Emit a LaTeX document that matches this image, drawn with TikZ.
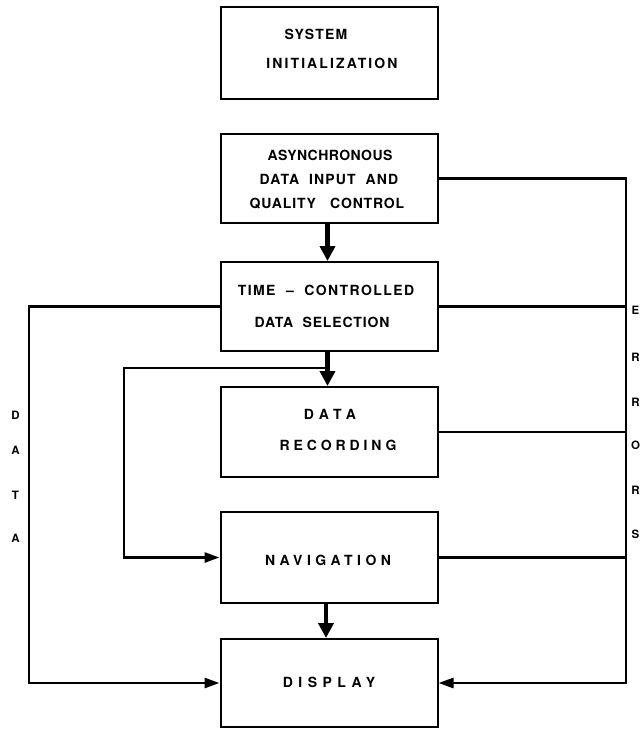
\documentclass[tikz,border=0pt]{standalone}
\usepackage{fontspec}
\setmainfont{TeX Gyre Heros}
\usetikzlibrary{arrows.meta}
\begin{document}
\begin{tikzpicture}[x=1pt,y=-1pt,
  box/.style={draw, line width=2pt, minimum width=217pt, minimum height=#1, inner sep=0pt},
  lt/.style={font={\fontsize{14}{16}\selectfont\bfseries\addfontfeature{LetterSpace=#1}}, inner sep=0pt, anchor=base},
  side/.style={font={\bfseries\fontsize{11.5}{13}\selectfont}, inner sep=0pt},
  conn/.style={line width=2.8pt},
  arr/.style={conn, -{Triangle[length=15pt,width=10pt]}},
  bigarr/.style={line width=4.8pt, -{Triangle[length=15pt,width=15pt]}}
]
\useasboundingbox (0,0) rectangle (641,729);

% boxes
\node[box=92pt] (init)  at (329,53)    {};
\node[box=89pt] (async) at (329,178.5) {};
\node[box=89pt] (time)  at (329,306.5) {};
\node[box=90pt] (rec)   at (329,432)   {};
\node[box=91pt] (nav)   at (329,557.5) {};
\node[box=88pt] (disp)  at (329,683)   {};

% texts
\node[lt=9]  (t1) at (316,39) {SYSTEM};
\node[lt=15] (t2) at (332,68) {INITIALIZATION};
\node[lt=3]  (t3) at (330,160) {ASYNCHRONOUS};
\node[lt=8]  (t4) at (329,184) {DATA\ \ INPUT\ \ AND};
\node[lt=6]  (t5) at (327,208) {QUALITY\ \ \ CONTROL};
\node[lt=10] (t6) at (326,295) {TIME\ \ –\ \ CONTROLLED};
\node[lt=6]  (t7) at (322,327) {DATA\ \ SELECTION};
\node[lt=38] (t8) at (330,419) {DATA};
\node[lt=28] (t9) at (338,450) {RECORDING};
\node[lt=32] (t10) at (328,565) {NAVIGATION};
\node[lt=39] (t11) at (329,687) {DISPLAY};

% side letters
\node[side] (d1) at (15.5,415) {D};
\node[side] (d2) at (15.5,450) {A};
\node[side] (d3) at (15.5,495) {T};
\node[side] (d4) at (15.5,538) {A};
\node[side] (e1) at (635.5,310) {E};
\node[side] (e2) at (635.5,357) {R};
\node[side] (e3) at (635.5,402) {R};
\node[side] (e4) at (635.5,445) {O};
\node[side] (e5) at (635.5,490) {R};
\node[side] (e6) at (635.5,534) {S};

% helper coordinates
\coordinate (L) at (29,0);
\coordinate (R) at (626,0);
\coordinate (LL) at (124,0);
\coordinate (j) at (328,368);

% main flow
\draw[bigarr] ([xshift=-1.5pt]async.south) -- ([xshift=-1.5pt]time.north);
\draw[bigarr] ([xshift=-1.5pt]time.south) -- ([xshift=-1.5pt]rec.north);
\draw[bigarr] ([xshift=-3pt]nav.south) -- ([xshift=-3pt]disp.north);

% loop to navigation
\draw[arr] (j) -- (LL |- j) |- (nav.west);

% data line
\draw[arr] (time.west) -| (L |- disp.west) -- (disp.west);

% errors line
\draw[arr] (async.east) -| (R |- disp.east) -- (disp.east);
\draw[conn] (time.east) -- ([xshift=1.4pt]R |- time.east);
\draw[conn] (rec.east) -- ([xshift=1.4pt]R |- rec.east);
\draw[conn] (nav.east) -- ([xshift=1.4pt]R |- nav.east);
\end{tikzpicture}
\end{document}
